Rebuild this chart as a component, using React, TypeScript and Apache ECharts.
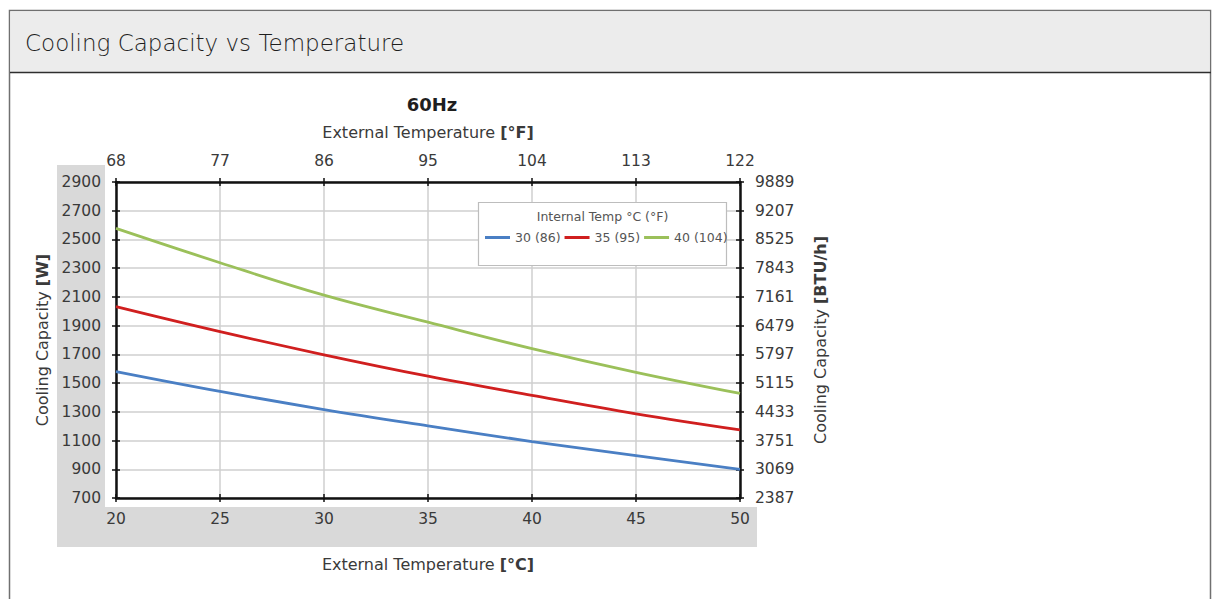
import React, { useEffect, useRef } from "react";
import * as echarts from "echarts";

const celsius = [20, 25, 30, 35, 40, 45, 50];
const fahrenheitLabels = ["68", "77", "86", "95", "104", "113", "122"];
const btuLabels = ["2387", "3069", "3751", "4433", "5115", "5797", "6479", "7161", "7843", "8525", "9207", "9889"];
const seriesNames = ["30 (86)", "35 (95)", "40 (104)"];
const cap30 = [1580, 1442, 1316, 1202, 1093, 995, 900];
const cap35 = [2032, 1858, 1697, 1548, 1414, 1286, 1174];
const cap40 = [2577, 2338, 2112, 1924, 1740, 1575, 1428];
const seriesColors = ["#4a7fc4", "#d01f1f", "#9bc05a"];

const FONT = "'DejaVu Sans', sans-serif";
const TXT = "#3a3a3a";

export default function App() {
  const ref = useRef<HTMLDivElement>(null);
  useEffect(() => {
    if (!ref.current) return;
    const chart = echarts.init(ref.current, undefined, { renderer: "svg" });
    const allSeries = [cap30, cap35, cap40];
    const labelStyle = { fontFamily: FONT, fontSize: 15.5, color: TXT };
    const nameStyle = {
      fontFamily: FONT,
      fontSize: 16,
      color: TXT,
      rich: { b: { fontFamily: FONT, fontSize: 16, fontWeight: "bold", color: TXT } },
    };
    const innerX = (pos: string) => ({
      type: "value",
      position: pos,
      min: 20,
      max: 50,
      interval: 5,
      axisLine: { show: false },
      axisLabel: { show: false },
      splitLine: { show: false },
      axisTick: { show: true, inside: true, length: 4, lineStyle: { color: "#111", width: 1.5 } },
    });
    const innerY = (pos: string) => ({
      type: "value",
      position: pos,
      min: 700,
      max: 2900,
      interval: 200,
      axisLine: { show: false },
      axisLabel: { show: false },
      splitLine: { show: false },
      axisTick: { show: true, inside: true, length: 4, lineStyle: { color: "#111", width: 1.5 } },
    });
    chart.setOption({
      animation: false,
      backgroundColor: "#ffffff",
      grid: { left: 116, right: 473, top: 182, bottom: 101, containLabel: false },
      legend: {
        data: seriesNames,
        left: 485,
        top: 231,
        padding: 0,
        icon: "rect",
        itemWidth: 25,
        itemHeight: 3,
        itemGap: 4,
        z: 6,
        textStyle: { fontFamily: FONT, fontSize: 12.5, color: "#555" },
      },
      xAxis: [
        {
          type: "value",
          position: "bottom",
          min: 20,
          max: 50,
          interval: 5,
          name: "External Temperature {b|[°C]}",
          nameLocation: "middle",
          nameGap: 58,
          nameTextStyle: nameStyle,
          axisLine: { show: true, lineStyle: { color: "#111", width: 2.5 } },
          axisTick: { show: true, length: 4, lineStyle: { color: "#111", width: 1.5 } },
          axisLabel: { ...labelStyle, margin: 13, formatter: (v: number) => String(v) },
          splitLine: { show: true, lineStyle: { color: "#cfcfcf", width: 1.5 } },
        },
        {
          type: "value",
          position: "top",
          min: 20,
          max: 50,
          interval: 5,
          name: "External Temperature {b|[°F]}",
          nameLocation: "middle",
          nameGap: 42,
          nameTextStyle: nameStyle,
          axisLine: { show: true, lineStyle: { color: "#111", width: 2.5 } },
          axisTick: { show: true, length: 4, lineStyle: { color: "#111", width: 1.5 } },
          axisLabel: {
            ...labelStyle,
            margin: 13,
            formatter: (v: number) => fahrenheitLabels[celsius.indexOf(v)] ?? "",
          },
          splitLine: { show: false },
        },
        innerX("bottom"),
        innerX("top"),
      ],
      yAxis: [
        {
          type: "value",
          position: "left",
          min: 700,
          max: 2900,
          interval: 200,
          name: "Cooling Capacity {b|[W]}",
          nameLocation: "middle",
          nameRotate: 90,
          nameGap: 65,
          nameTextStyle: nameStyle,
          axisLine: { show: true, lineStyle: { color: "#111", width: 2.5 } },
          axisTick: { show: true, length: 4, lineStyle: { color: "#111", width: 1.5 } },
          axisLabel: { ...labelStyle, margin: 15, formatter: (v: number) => String(v) },
          splitLine: { show: true, lineStyle: { color: "#cfcfcf", width: 1.5 } },
        },
        {
          type: "value",
          position: "right",
          min: 700,
          max: 2900,
          interval: 200,
          name: "Cooling Capacity {b|[BTU/h]}",
          nameLocation: "middle",
          nameRotate: 90,
          nameGap: 72,
          nameTextStyle: nameStyle,
          axisLine: { show: true, lineStyle: { color: "#111", width: 2.5 } },
          axisTick: { show: true, length: 4, lineStyle: { color: "#111", width: 1.5 } },
          axisLabel: {
            ...labelStyle,
            margin: 15,
            formatter: (v: number) => btuLabels[Math.round((v - 700) / 200)] ?? "",
          },
          splitLine: { show: false },
        },
        innerY("left"),
        innerY("right"),
      ],
      series: allSeries.map((vals, i) => ({
        name: seriesNames[i],
        type: "line",
        xAxisIndex: 0,
        yAxisIndex: 0,
        data: celsius.map((c, j) => [c, vals[j]]),
        showSymbol: false,
        smooth: 0.4,
        z: 3,
        itemStyle: { color: seriesColors[i] },
        lineStyle: { color: seriesColors[i], width: 2.8 },
      })),
      graphic: [
        {
          type: "rect",
          z: -30,
          shape: { x: 9.5, y: 10.5, width: 1201, height: 640 },
          style: { fill: "#ffffff", stroke: "#707070", lineWidth: 1.5 },
        },
        {
          type: "rect",
          z: -29,
          shape: { x: 10.25, y: 11.25, width: 1199.5, height: 61 },
          style: { fill: "#ececec" },
        },
        {
          type: "line",
          z: -28,
          shape: { x1: 10, y1: 72.5, x2: 1211, y2: 72.5 },
          style: { stroke: "#2e2e2e", lineWidth: 1.5 },
        },
        {
          type: "text",
          z: -27,
          x: 25,
          y: 43,
          style: {
            text: "Cooling Capacity vs Temperature",
            fontFamily: FONT,
            fontSize: 23,
            fontWeight: 200,
            fill: "#1e1e1e",
            verticalAlign: "middle",
            align: "left",
          },
        },
        {
          type: "rect",
          z: -20,
          shape: { x: 57, y: 165, width: 700, height: 382 },
          style: { fill: "#d9d9d9" },
        },
        {
          type: "rect",
          z: -19,
          shape: { x: 105, y: 165, width: 652, height: 342 },
          style: { fill: "#ffffff" },
        },
        {
          type: "text",
          z: 5,
          x: 432,
          y: 104,
          style: {
            text: "60Hz",
            fontFamily: FONT,
            fontSize: 18,
            fontWeight: "bold",
            fill: "#1e1e1e",
            align: "center",
            verticalAlign: "middle",
          },
        },
        {
          type: "rect",
          z: 4,
          shape: { x: 478.5, y: 202.5, width: 248, height: 63 },
          style: { fill: "#ffffff", stroke: "#bdbdbd", lineWidth: 1.2 },
        },
        {
          type: "text",
          z: 5,
          x: 602.5,
          y: 216,
          style: {
            text: "Internal Temp °C (°F)",
            fontFamily: FONT,
            fontSize: 12.5,
            fill: "#555",
            align: "center",
            verticalAlign: "middle",
          },
        },
      ],
    });
    return () => chart.dispose();
  }, []);
  return (
    <div
      ref={ref}
      style={{ position: "absolute", left: 0, top: 0, width: 1213, height: 599 }}
    />
  );
}
